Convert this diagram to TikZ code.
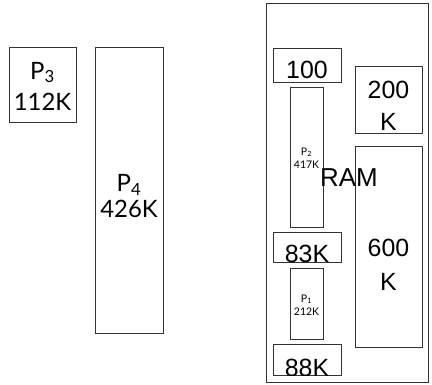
\documentclass[tikz,border=0pt]{standalone}
\usepackage{fontspec}
\usepackage{tikz}
\newfontfamily\gillf{Lato}
\newfontfamily\helvf{Liberation Sans}
\tikzset{
	blk/.style={draw=black!80,line width=1pt,rectangle,inner sep=0pt},
	pl/.style={font=\gillf\fontsize{24}{31}\selectfont,align=center,inner sep=0pt},
	sl/.style={font=\gillf\fontsize{10.5}{13}\selectfont,align=center,inner sep=0pt},
	hl/.style={font=\helvf\fontsize{25}{32}\selectfont,align=center,inner sep=0pt}
}
\begin{document}
\begin{tikzpicture}[x=1bp,y=-1bp]
				\useasboundingbox (0,0) rectangle (432,385);
				\node[blk,minimum width=67bp,minimum height=75bp] (p3) at (42.5,84.5) {};
				\node[blk,minimum width=68bp,minimum height=286bp] (p4) at (129,190) {};
				\node[pl] (p3t) at (42.5,86) {P\textsubscript{3}\\112K};
				\node[pl,font=\gillf\fontsize{24}{26}\selectfont] (p4t) at (129,196) {P\textsubscript{4}\\426K};
				% memory
				\node[blk,minimum width=162bp,minimum height=379bp] (ram) at (347,192.5) {};
				\node[blk,minimum width=68bp,minimum height=34bp] (b100) at (307,65) {};
				\node[blk,minimum width=33bp,minimum height=140bp] (p2) at (306.5,157) {};
				\node[blk,minimum width=67bp,minimum height=67bp] (b200) at (388.5,99.5) {};
				\node[blk,minimum width=67bp,minimum height=201bp] (b600) at (388.5,246.5) {};
				\node[blk,minimum width=68bp,minimum height=30bp] (b83) at (307,247) {};
				\node[blk,minimum width=33bp,minimum height=71bp] (p1) at (306.5,303.5) {};
				\node[blk,minimum width=68bp,minimum height=31bp] (b88) at (307,359.5) {};
				\node[hl] (t100) at (307,70) {100};
				\node[hl] (t200) at (388.5,106) {200\\K};
				\node[hl,font=\helvf\fontsize{25}{34}\selectfont] (t600) at (388.5,265) {600\\K};
				\node[sl] (p2t) at (306.5,158) {P\textsubscript{2}\\417K};
				\node[sl] (p1t) at (306.5,305) {P\textsubscript{1}\\212K};
				\node[hl,font=\helvf\fontsize{26}{30}\selectfont] (tram) at (349,178) {RAM};
				\begin{scope}
					\clip (b83.south west) rectangle (b83.north east);
					\node[hl] (t83) at (307,254) {83K};
				\end{scope}
				\begin{scope}
					\clip (b88.south west) rectangle (b88.north east);
					\node[hl] (t88) at (307,368) {88K};
				\end{scope}
\end{tikzpicture}
\end{document}
